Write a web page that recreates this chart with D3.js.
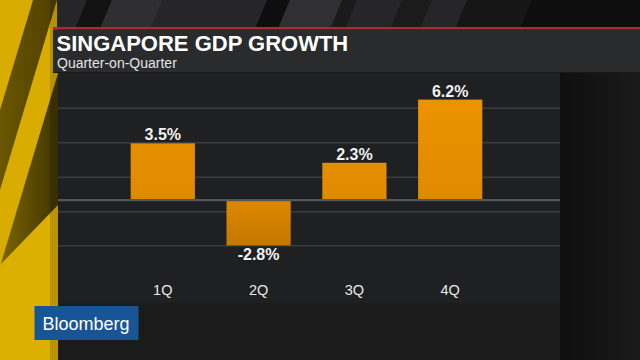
<!DOCTYPE html>
<html>
<head>
<meta charset="utf-8">
<script src="https://cdn.jsdelivr.net/npm/d3@7"></script>
<style>
  html, body { margin: 0; padding: 0; background: #141414; }
  svg { display: block; }
  text { font-family: "Liberation Sans", Arial, sans-serif; }
</style>
</head>
<body>
<svg id="chart" width="640" height="360"></svg>
<script>
// ---- data ----
const categories = ["1Q", "2Q", "3Q", "4Q"];
const values = [3.5, -2.8, 2.3, 6.2];
const valueLabels = ["3.5%", "-2.8%", "2.3%", "6.2%"];
const gridValues = [-2.82, -0.72, 1.4, 3.54, 5.66];
const titleText = "SINGAPORE GDP GROWTH";
const subtitleText = "Quarter-on-Quarter";
const brandText = "Bloomberg";

const svg = d3.select("#chart");
const W = 640, H = 360;
const defs = svg.append("defs");

// gradients
const gBar = defs.append("linearGradient").attr("id", "barGrad")
  .attr("gradientUnits", "userSpaceOnUse").attr("x1", 0).attr("x2", 0).attr("y1", 100).attr("y2", 246);
gBar.append("stop").attr("offset", "0%").attr("stop-color", "#ec9200");
gBar.append("stop").attr("offset", "62%").attr("stop-color", "#e28b00");
gBar.append("stop").attr("offset", "100%").attr("stop-color", "#c47800");

const gOl = defs.append("linearGradient").attr("id", "olGrad")
  .attr("x1", 0).attr("x2", 1).attr("y1", 0).attr("y2", 0);
gOl.append("stop").attr("offset", "0%").attr("stop-color", "#7a6300");
gOl.append("stop").attr("offset", "100%").attr("stop-color", "#4e4000");

const gOl2 = defs.append("linearGradient").attr("id", "olGrad2")
  .attr("gradientUnits", "userSpaceOnUse").attr("x1", 0).attr("x2", 58).attr("y1", 0).attr("y2", 0);
gOl2.append("stop").attr("offset", "0%").attr("stop-color", "#7d6600");
gOl2.append("stop").attr("offset", "100%").attr("stop-color", "#3f3400");

const gRight = defs.append("linearGradient").attr("id", "rightGrad")
  .attr("x1", 0).attr("x2", 1).attr("y1", 0).attr("y2", 0);
gRight.append("stop").attr("offset", "0%").attr("stop-color", "#0f0f10");
gRight.append("stop").attr("offset", "100%").attr("stop-color", "#1a1a1b");

defs.append("clipPath").attr("id", "stripClip")
  .append("rect").attr("x", 0).attr("y", 0).attr("width", 58).attr("height", H);

// ---- background ----
svg.append("rect").attr("width", W).attr("height", H).attr("fill", "#171718");

// left yellow strip
const strip = svg.append("g").attr("clip-path", "url(#stripClip)");
strip.append("rect").attr("x", 0).attr("y", 0).attr("width", 58).attr("height", H).attr("fill", "#d8ac00");
const slope = 0.3;
function band(a, b, y0, y1) {
  return [[a - slope * y0, y0], [b - slope * y0, y0], [b - slope * y1, y1], [a - slope * y1, y1]];
}
const line = d3.line();
strip.append("path").attr("d", line(band(33, 57, 0, 220)) + "Z").attr("fill", "url(#olGrad)");
strip.append("path").attr("d", line(band(80, 220, 0, 360)) + "Z").attr("fill", "url(#olGrad2)");
strip.append("path").attr("d", line([[58, 205], [58, 360], [0, 360], [0, 265]]) + "Z").attr("fill", "#dcb000");
strip.append("rect").attr("x", 50).attr("y", 0).attr("width", 8).attr("height", H).attr("fill", "#000").attr("opacity", 0.15);

// top dark region with diagonal stripes
svg.append("rect").attr("x", 57).attr("y", 0).attr("width", W - 57).attr("height", 29).attr("fill", "#262628");
const topStripes = [
  { a: 75, b: 100, c: "#121212" },
  { a: 100, b: 150, c: "#2f2f31" },
  { a: 255, b: 278, c: "#0e0e0e" },
  { a: 278, b: 340, c: "#303032" },
  { a: 330, b: 345, c: "#1a1a1b" },
  { a: 390, b: 420, c: "#1b1b1c" },
  { a: 455, b: 640, c: "#161617" },
  { a: 520, b: 660, c: "#0e0e0f" }
];
svg.selectAll("path.topstripe").data(topStripes).enter().append("path")
  .attr("class", "topstripe")
  .attr("d", d => line([[d.a + 12, 0], [d.b + 12, 0], [d.b, 29], [d.a, 29]]) + "Z")
  .attr("fill", d => d.c);

// right dark region and bottom region
svg.append("rect").attr("x", 560).attr("y", 72).attr("width", 80).attr("height", H - 72).attr("fill", "url(#rightGrad)");
svg.append("rect").attr("x", 58).attr("y", 303).attr("width", 502).attr("height", 57).attr("fill", "#1b1b1c");

// red line and title band
svg.append("rect").attr("x", 53).attr("y", 27).attr("width", W - 53).attr("height", 2.5).attr("fill", "#b5282a");
svg.append("rect").attr("x", 53).attr("y", 29.5).attr("width", W - 53).attr("height", 42.5).attr("fill", "#2a2b2d");

// chart panel
svg.append("rect").attr("x", 58).attr("y", 72).attr("width", 502).attr("height", 231).attr("fill", "#1f2022");
svg.append("rect").attr("x", 53).attr("y", 72).attr("width", W - 53).attr("height", 1).attr("fill", "#18191a");

// ---- scales ----
const x = d3.scaleBand().domain(categories).range([130.7, 482.3]).paddingInner(0.33).paddingOuter(0);
const y = d3.scaleLinear().domain([-2.8, 6.2]).range([245.4, 99.6]);

// gridlines
svg.append("g").selectAll("line").data(gridValues).enter().append("line")
  .attr("x1", 58).attr("x2", 560)
  .attr("y1", d => y(d)).attr("y2", d => y(d))
  .attr("stroke", "#3b3c3f").attr("stroke-width", 1.5);

// bars
const data = categories.map((c, i) => ({ c, v: values[i], label: valueLabels[i] }));
svg.append("g").selectAll("rect").data(data).enter().append("rect")
  .attr("x", d => x(d.c))
  .attr("width", x.bandwidth())
  .attr("y", d => Math.min(y(d.v), y(0)))
  .attr("height", d => Math.abs(y(d.v) - y(0)))
  .attr("fill", "url(#barGrad)");

// zero line
svg.append("line").attr("x1", 58).attr("x2", 560).attr("y1", y(0)).attr("y2", y(0))
  .attr("stroke", "#55565a").attr("stroke-width", 2.2);

// value labels
svg.append("g").selectAll("text").data(data).enter().append("text")
  .attr("x", d => x(d.c) + x.bandwidth() / 2)
  .attr("y", d => d.v >= 0 ? y(d.v) - 3 : y(d.v) + 14.5)
  .attr("text-anchor", "middle")
  .attr("font-size", 16).attr("font-weight", "bold")
  .attr("fill", "#f2f2f2")
  .text(d => d.label);

// category axis labels
const xAxis = d3.axisBottom(x).tickSize(0).tickPadding(0);
const axG = svg.append("g").attr("transform", "translate(0,285)").call(xAxis);
axG.select(".domain").remove();
axG.selectAll("text")
  .attr("font-size", 14.5).attr("fill", "#e8e8e8")
  .attr("font-family", "'Liberation Sans', Arial, sans-serif")
  .attr("dy", 0).attr("y", 10);

// title & subtitle
svg.append("text").attr("x", 56.5).attr("y", 50.5)
  .attr("font-size", 22).attr("font-weight", "bold").attr("fill", "#ffffff")
  .text(titleText);
svg.append("text").attr("x", 57).attr("y", 68)
  .attr("font-size", 14).attr("fill", "#e4e4e4")
  .text(subtitleText);

// brand logo
svg.append("rect").attr("x", 34.5).attr("y", 306).attr("width", 104).attr("height", 34).attr("fill", "#175596");
svg.append("text").attr("x", 42.5).attr("y", 330)
  .attr("font-size", 19).attr("fill", "#ffffff").attr("textLength", 87).attr("lengthAdjust", "spacingAndGlyphs")
  .text(brandText);
</script>
</body>
</html>
